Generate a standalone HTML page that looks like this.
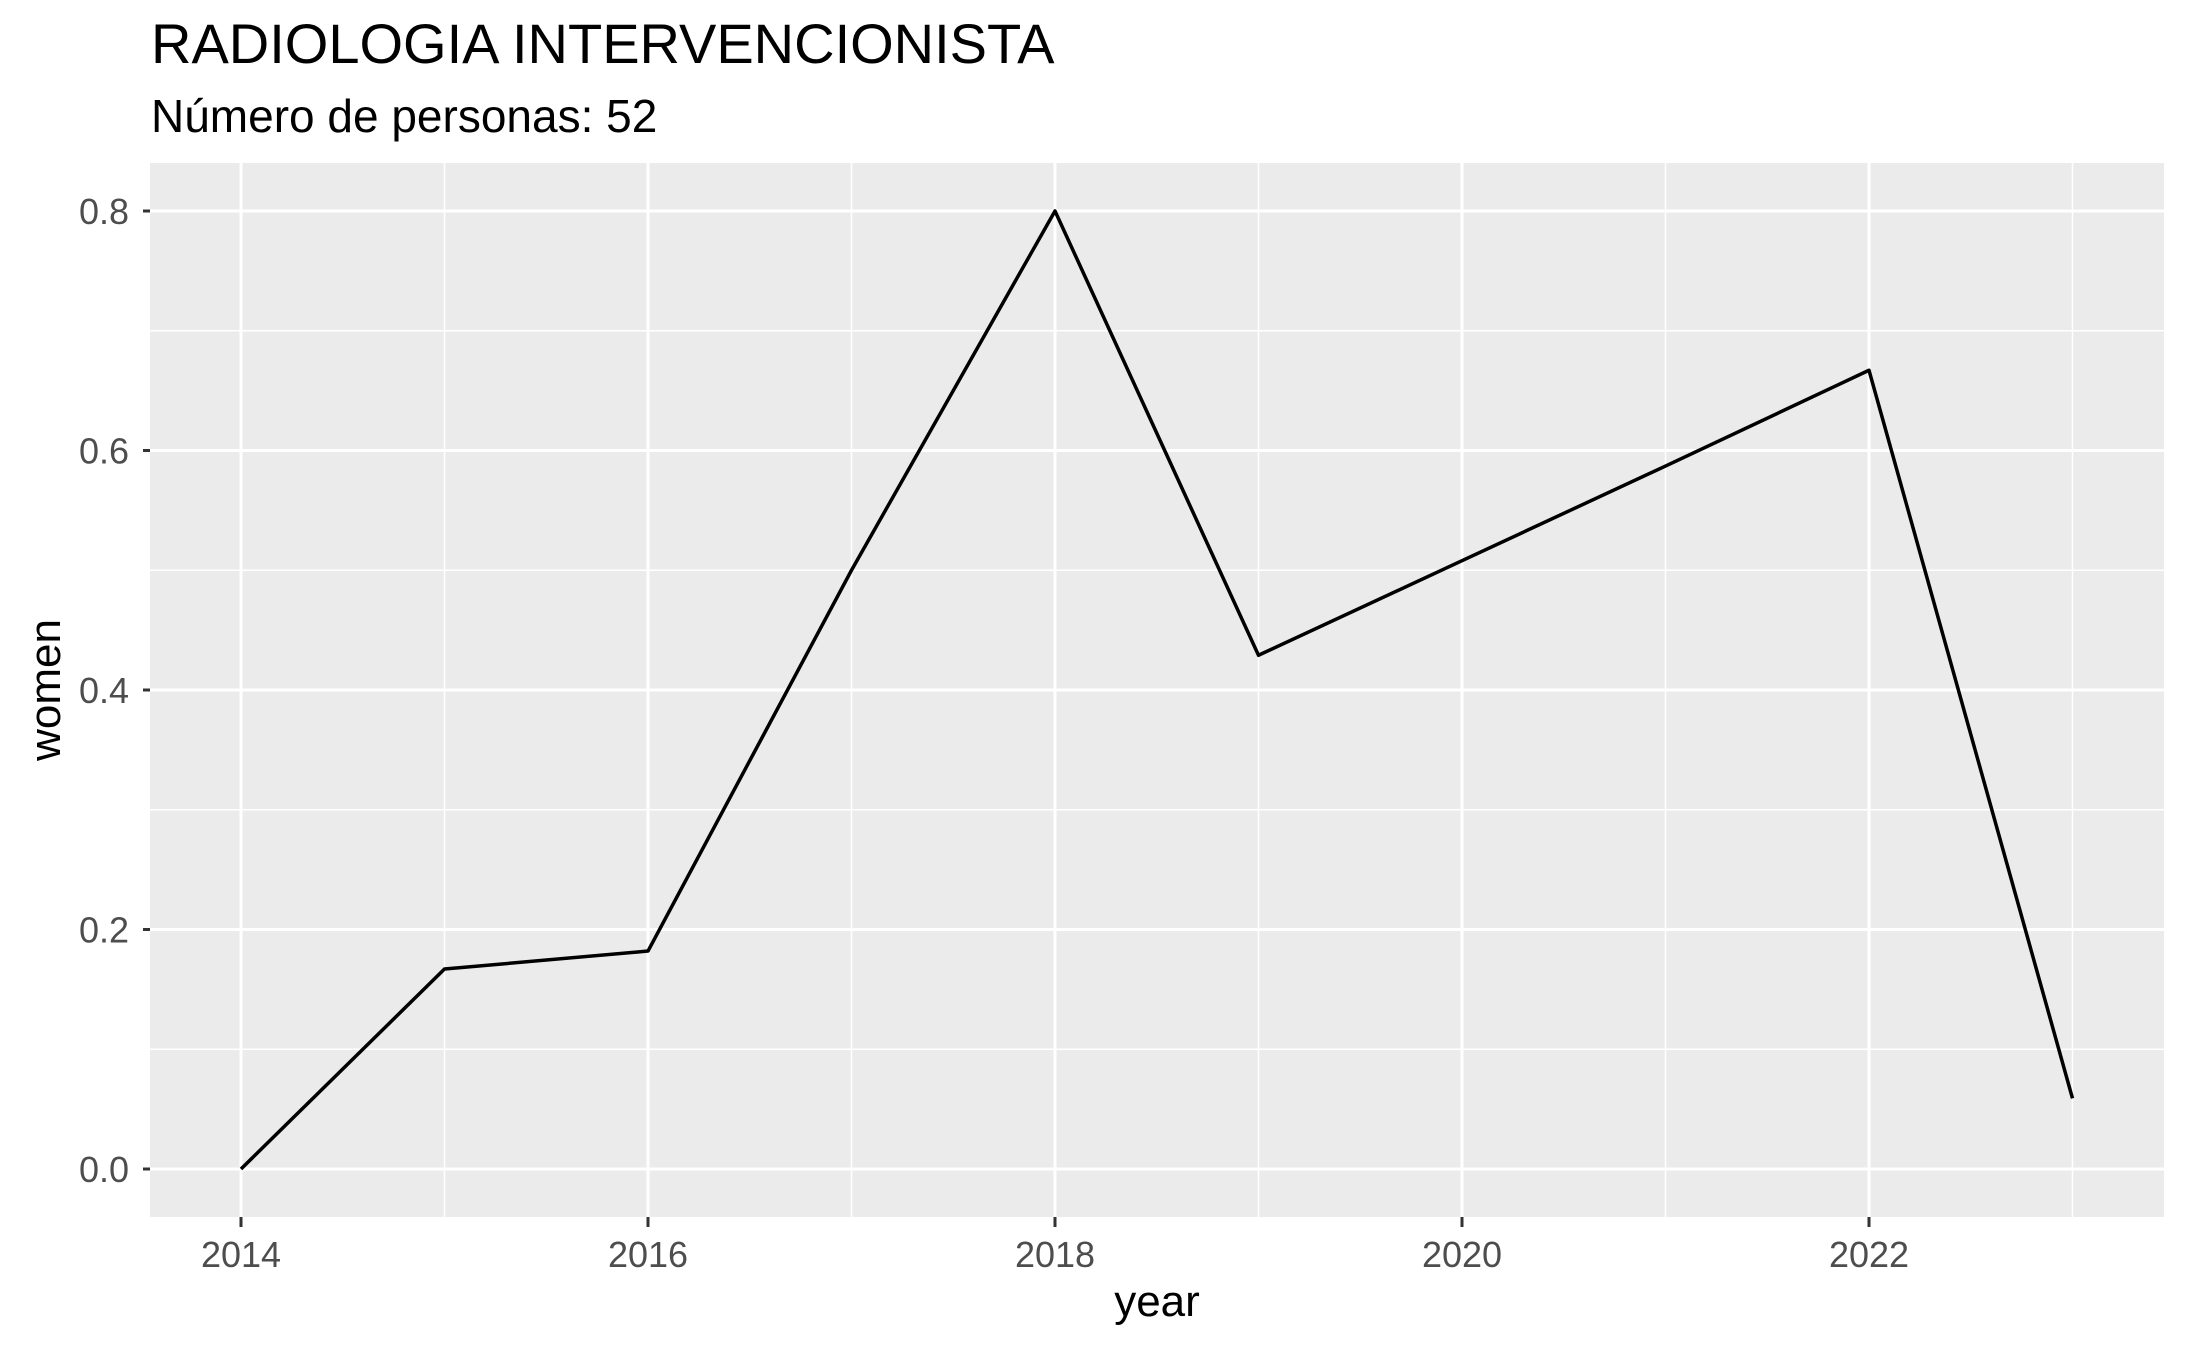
<!DOCTYPE html>
<html><head><meta charset="utf-8"><style>
html,body{margin:0;padding:0;background:#fff;}
svg{display:block;font-family:"Liberation Sans",Arial,sans-serif;}
</style></head><body>
<svg id="chart" width="2187" height="1350" viewBox="0 0 2187 1350">
<text x="151" y="63" font-size="56" fill="#000">RADIOLOGIA INTERVENCIONISTA</text>
<text x="151" y="132" font-size="46" fill="#000">Número de personas: 52</text>
<rect x="150" y="163" width="2014" height="1054" fill="#EBEBEB"/>
<g id="grid"></g>
<g id="axes"></g>
<path id="line" fill="none" stroke="#000" stroke-width="3.5" stroke-linejoin="round"/>
<text x="1157" y="1316" font-size="44" text-anchor="middle" fill="#000">year</text>
<text transform="translate(60,690) rotate(-90)" font-size="44" text-anchor="middle" fill="#000">women</text>
</svg>
<script>
const years = [2014,2015,2016,2017,2018,2019,2020,2021,2022,2023];
const women = [0,0.167,0.182,0.5,0.8,0.429,0.508,0.587,0.667,0.059];
const xTicks = [2014,2016,2018,2020,2022];
const yTicks = [0,0.2,0.4,0.6,0.8];
const xMinor = [2015,2017,2019,2021,2023];
const yMinor = [0.1,0.3,0.5,0.7];
const NS='http://www.w3.org/2000/svg';
function xs(v){return 241+(v-2014)*203.5;}
function ys(v){return 1169-v*1197.5;}
const grid=document.getElementById('grid'), axes=document.getElementById('axes');
function mk(tag,attrs,parent){const e=document.createElementNS(NS,tag);for(const k in attrs)e.setAttribute(k,attrs[k]);parent.appendChild(e);return e;}
yMinor.forEach(v=>{const l=mk('line',{x1:150,x2:2164,y1:ys(v),y2:ys(v),stroke:'#fff','stroke-width':1.5},grid);

});
xMinor.forEach(v=>{const l=mk('line',{x1:xs(v),x2:xs(v),y1:163,y2:1217,stroke:'#fff','stroke-width':1.5},grid);

});
yTicks.forEach(v=>{const l=mk('line',{x1:150,x2:2164,y1:ys(v),y2:ys(v),stroke:'#fff','stroke-width':3},grid);


const t=mk('line',{x1:143,x2:150,y1:ys(v),y2:ys(v),stroke:'#333','stroke-width':3},axes);


const tx=mk('text',{x:129,y:ys(v)+13,'font-size':36,'text-anchor':'end',fill:'#4D4D4D'},axes);
tx.textContent=v.toFixed(1);

});
xTicks.forEach(v=>{const l=mk('line',{x1:xs(v),x2:xs(v),y1:163,y2:1217,stroke:'#fff','stroke-width':3},grid);


const t=mk('line',{x1:xs(v),x2:xs(v),y1:1217,y2:1227,stroke:'#333','stroke-width':3},axes);


const tx=mk('text',{x:xs(v),y:1267,'font-size':36,'text-anchor':'middle',fill:'#4D4D4D'},axes);
tx.textContent=v;

});
document.getElementById('line').setAttribute('d',years.map((y,i)=>(i?'L':'M')+xs(y)+','+ys(women[i])).join(' '));
</script>
</body></html>
